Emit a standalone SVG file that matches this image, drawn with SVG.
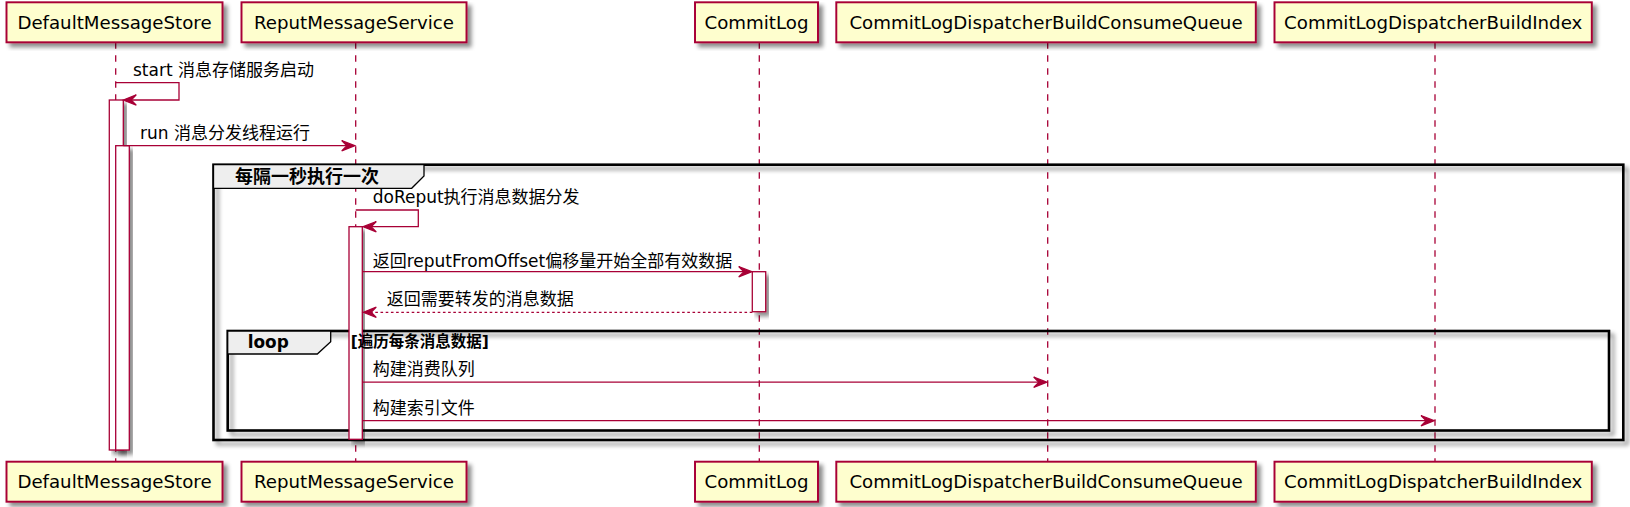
<svg xmlns="http://www.w3.org/2000/svg" width="1630" height="507" viewBox="0 0 1630 507">
<defs>
<filter id="sh" x="-10%" y="-10%" width="130%" height="130%">
<feGaussianBlur in="SourceAlpha" stdDeviation="2"/>
<feColorMatrix type="matrix" values="0 0 0 0 0  0 0 0 0 0  0 0 0 0 0  0 0 0 0.45 0"/>
<feOffset dx="4" dy="4" result="b"/>
<feMerge><feMergeNode in="b"/><feMergeNode in="SourceGraphic"/></feMerge>
</filter>
</defs>
<style>
.pbox{fill:#FEFECE;stroke:#A80036;stroke-width:1.95}
.pname{font-family:"DejaVu Sans","Noto Sans CJK SC",sans-serif;font-size:18.2px;fill:#000;text-anchor:middle}
.life{stroke:#A80036;stroke-width:1.3;stroke-dasharray:6.5,6.5;fill:none}
.act{fill:#FFFFFF;stroke:#A80036;stroke-width:1.3}
.msg{stroke:#A80036;stroke-width:1.3;fill:none}
.ret{stroke:#A80036;stroke-width:1.3;fill:none;stroke-dasharray:2.6,2.6}
.head{fill:#A80036;stroke:#A80036;stroke-width:1.3}
.mtxt{font-family:"DejaVu Sans","Noto Sans CJK SC",sans-serif;font-size:17px;fill:#000}
.grp{fill:none;stroke:#000;stroke-width:2.6}
.tab{fill:#EEEEEE;stroke:#000;stroke-width:1.3}
.gtxt{font-family:"DejaVu Sans","Noto Sans CJK SC",sans-serif;font-weight:bold;fill:#000}
</style>
<rect x="0" y="0" width="1630" height="507" fill="#FFFFFF"/>

<g id="lifelines">
<line class="life" x1="115.7" y1="42.3" x2="115.7" y2="461.7"/>
<line class="life" x1="355.7" y1="42.3" x2="355.7" y2="461.7"/>
<line class="life" x1="759.3" y1="42.3" x2="759.3" y2="461.7"/>
<line class="life" x1="1047.7" y1="42.3" x2="1047.7" y2="461.7"/>
<line class="life" x1="1435" y1="42.3" x2="1435" y2="461.7"/>
</g>

<g id="DefaultMessageStore">
<rect class="pbox" filter="url(#sh)" x="6.5" y="2.3" width="216" height="40"/>
<text class="pname" x="114.5" y="28.5">DefaultMessageStore</text>
<rect class="pbox" filter="url(#sh)" x="6.5" y="461.7" width="216" height="40"/>
<text class="pname" x="114.5" y="488">DefaultMessageStore</text>
</g>
<g id="ReputMessageService">
<rect class="pbox" filter="url(#sh)" x="241.5" y="2.3" width="225" height="40"/>
<text class="pname" x="354" y="28.5">ReputMessageService</text>
<rect class="pbox" filter="url(#sh)" x="241.5" y="461.7" width="225" height="40"/>
<text class="pname" x="354" y="488">ReputMessageService</text>
</g>
<g id="CommitLog">
<rect class="pbox" filter="url(#sh)" x="695" y="2.3" width="123" height="40"/>
<text class="pname" x="756.5" y="28.5">CommitLog</text>
<rect class="pbox" filter="url(#sh)" x="695" y="461.7" width="123" height="40"/>
<text class="pname" x="756.5" y="488">CommitLog</text>
</g>
<g id="CommitLogDispatcherBuildConsumeQueue">
<rect class="pbox" filter="url(#sh)" x="836.3" y="2.3" width="419.5" height="40"/>
<text class="pname" x="1046" y="28.5">CommitLogDispatcherBuildConsumeQueue</text>
<rect class="pbox" filter="url(#sh)" x="836.3" y="461.7" width="419.5" height="40"/>
<text class="pname" x="1046" y="488">CommitLogDispatcherBuildConsumeQueue</text>
</g>
<g id="CommitLogDispatcherBuildIndex">
<rect class="pbox" filter="url(#sh)" x="1274.5" y="2.3" width="317.3" height="40"/>
<text class="pname" x="1433.2" y="28.5">CommitLogDispatcherBuildIndex</text>
<rect class="pbox" filter="url(#sh)" x="1274.5" y="461.7" width="317.3" height="40"/>
<text class="pname" x="1433.2" y="488">CommitLogDispatcherBuildIndex</text>
</g>

<g id="group-every-second">
<rect class="grp" filter="url(#sh)" x="213.5" y="164.7" width="1409.8" height="275.3"/>
<polygon class="tab" points="213.5,164.7 424,164.7 424,176 411.7,188.3 213.5,188.3"/>
<text class="gtxt" x="235" y="183" font-size="18px">每隔一秒执行一次</text>
</g>

<g id="group-loop">
<rect class="grp" filter="url(#sh)" x="227.7" y="331" width="1381.3" height="99.5"/>
<polygon class="tab" points="227.7,331 330.7,331 330.7,341.7 317.3,354 227.7,354"/>
<text class="gtxt" x="247.7" y="348" font-size="16.9px">loop</text>
</g>

<g id="activations">
<rect class="act" filter="url(#sh)" x="109.3" y="100" width="14" height="350"/>
<rect class="act" filter="url(#sh)" x="115.7" y="145.7" width="13.6" height="304.3"/>
<rect class="act" filter="url(#sh)" x="349" y="226.7" width="13.3" height="212.6"/>
<rect class="act" filter="url(#sh)" x="752.3" y="271.7" width="13.4" height="40"/>
</g>

<text id="loop-guard" class="gtxt" x="350.7" y="347" font-size="15.5px">[遍历每条消息数据]</text>

<g id="connectors">
<text class="mtxt" x="133" y="75.5">start 消息存储服务启动</text>
<polyline class="msg" points="115.7,82.7 179,82.7 179,100 124.5,100"/>
<polygon class="head" points="123.3,100 136.3,94.8 131.1,100 136.3,105.2"/>

<text class="mtxt" x="140" y="138.5">run 消息分发线程运行</text>
<line class="msg" x1="123.3" y1="145.7" x2="353" y2="145.7"/>
<polygon class="head" points="354.7,145.7 341.7,140.5 346.9,145.7 341.7,150.9"/>

<text class="mtxt" x="372.7" y="203.3">doReput执行消息数据分发</text>
<polyline class="msg" points="355.7,210 418.3,210 418.3,226.7 364.5,226.7"/>
<polygon class="head" points="363.3,226.7 376.3,221.5 371.1,226.7 376.3,231.9"/>

<text class="mtxt" x="372.7" y="266.7">返回reputFromOffset偏移量开始全部有效数据</text>
<line class="msg" x1="362.3" y1="271.7" x2="750" y2="271.7"/>
<polygon class="head" points="751.7,271.7 738.7,266.5 743.9,271.7 738.7,276.9"/>

<text class="mtxt" x="386.7" y="305">返回需要转发的消息数据</text>
<line class="ret" x1="752.3" y1="312.3" x2="365" y2="312.3"/>
<polygon class="head" points="363.3,312.3 376.3,307.1 371.1,312.3 376.3,317.5"/>

<text class="mtxt" x="372.7" y="375">构建消费队列</text>
<line class="msg" x1="362.3" y1="382.2" x2="1045" y2="382.2"/>
<polygon class="head" points="1046.7,382.2 1033.7,377 1038.9,382.2 1033.7,387.4"/>

<text class="mtxt" x="372.7" y="413.5">构建索引文件</text>
<line class="msg" x1="362.3" y1="420.7" x2="1432.3" y2="420.7"/>
<polygon class="head" points="1434,420.7 1421,415.5 1426.2,420.7 1421,425.9"/>
</g>
</svg>
